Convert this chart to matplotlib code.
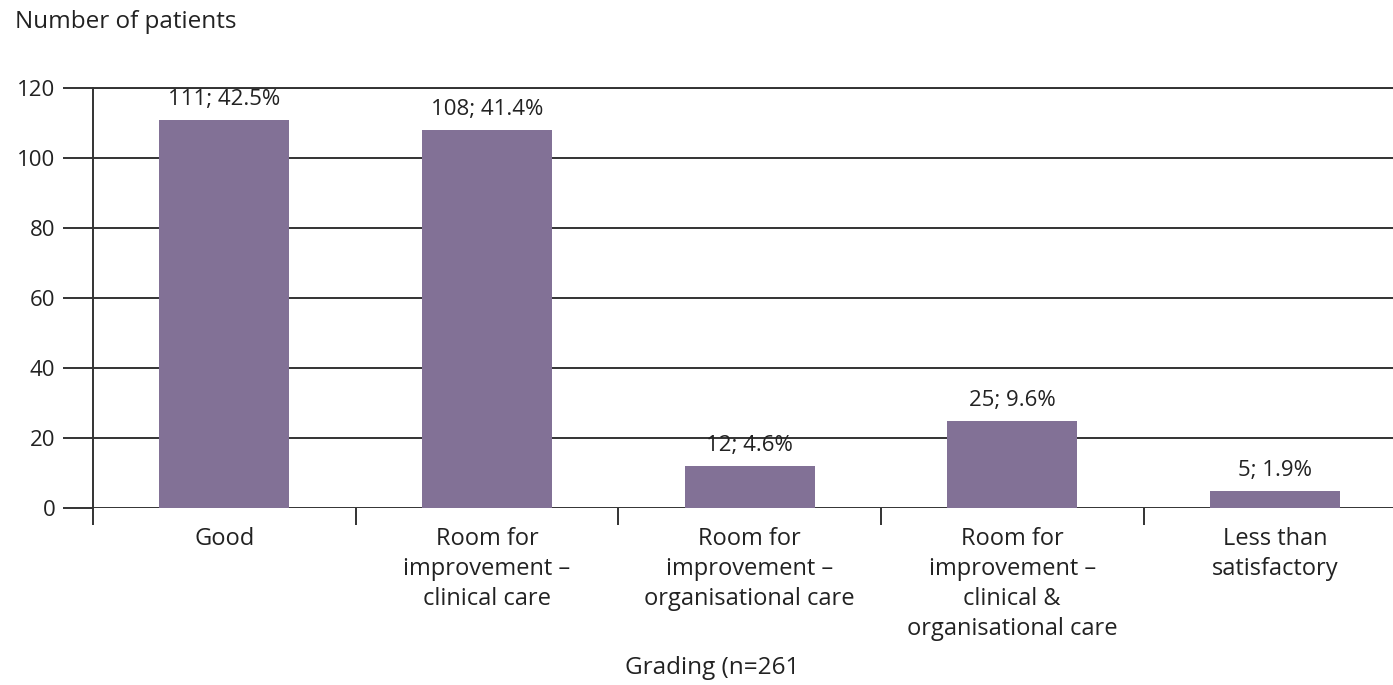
import matplotlib
matplotlib.use("Agg")
import matplotlib.pyplot as plt
import matplotlib.ticker as mticker

categories = ["Good", "Room for\nimprovement –\nclinical care",
              "Room for\nimprovement –\norganisational care",
              "Room for\nimprovement –\nclinical &\norganisational care",
              "Less than\nsatisfactory"]
counts = [111, 108, 12, 25, 5]
percents = [42.5, 41.4, 4.6, 9.6, 1.9]
yticks = [0, 20, 40, 60, 80, 100, 120]

plt.rcParams['font.family'] = ['Open Sans', 'DejaVu Sans']

fig = plt.figure(figsize=(13.93, 6.85), dpi=100)
ax = fig.add_axes([93/1393, (685-508)/685, 1 - 93/1393, (508-88)/685])

x = list(range(len(categories)))
ax.bar(x, counts, width=0.495, color="#827196", zorder=3)

ax.set_xlim(-0.5, 4.45)
ax.set_ylim(0, 120)
ax.set_yticks(yticks)
ax.yaxis.grid(True, color="#333333", linewidth=1.4)
ax.set_axisbelow(True)

for s in ["right", "bottom"]:
    ax.spines[s].set_visible(False)
for s in ["left", "top"]:
    ax.spines[s].set_color("#333333")
    ax.spines[s].set_linewidth(1.4)
ax.spines["top"].set_zorder(5)

ax.tick_params(axis="y", length=21.6, width=1.4, color="#333333", pad=5.5,
               labelsize=16, labelcolor="#222222")
ax.set_xticks(x)
ax.set_xticklabels(categories, fontsize=17, color="#222222", linespacing=1.33)
ax.tick_params(axis="x", which="major", length=0, pad=14)
ax.xaxis.set_minor_locator(mticker.FixedLocator([-0.5, 0.5, 1.5, 2.5, 3.5]))
ax.tick_params(axis="x", which="minor", length=12.2, width=1.4, color="#333333",
               direction="out")

for xi, c, p in zip(x, counts, percents):
    ax.annotate(f"    {c}; {p}%    ", (xi, c), xytext=(0, 7),
                textcoords="offset points",
                ha="center", va="bottom", fontsize=16, color="#222222", zorder=4,
                bbox=dict(boxstyle="square,pad=-0.15", fc="white", ec="none"))

fig.text(15/1393, 1 - 22/685, "Number of patients", fontsize=17.5, color="#222222",
         ha="left", va="center")
fig.text(712/1393, 1 - 668/685, "Grading (n=261", fontsize=17.5, color="#222222",
         ha="center", va="center")

fig.savefig("out.png", dpi=100)
